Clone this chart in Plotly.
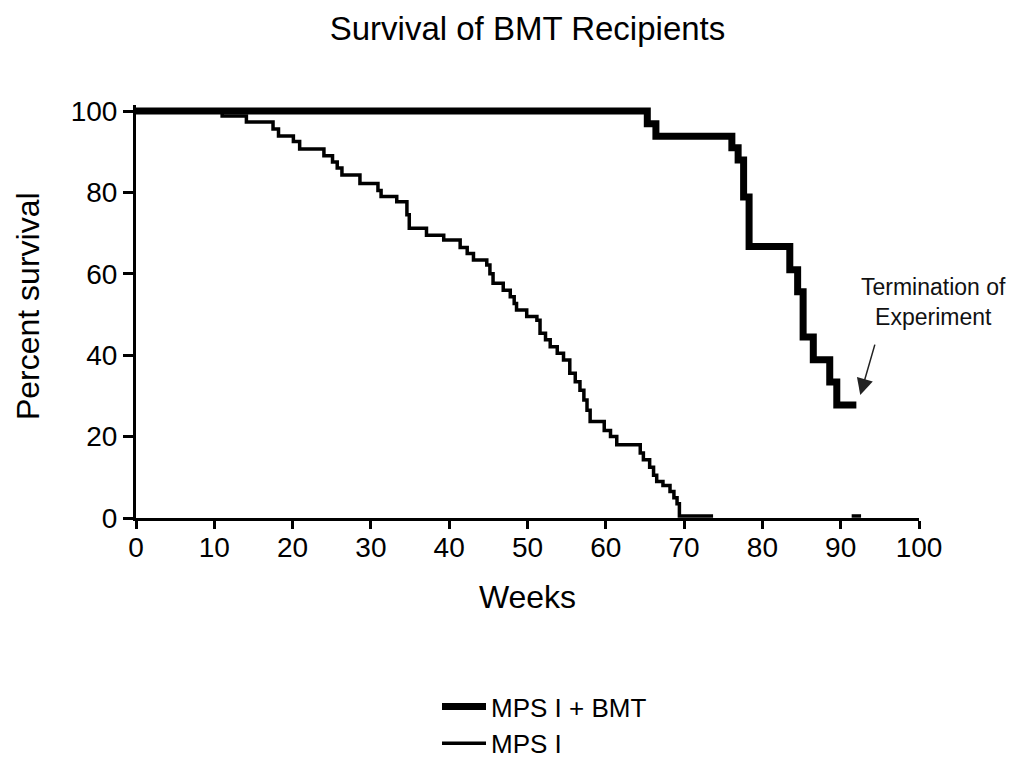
import plotly.graph_objects as go

# Kaplan-Meier step data: week of each step and percent surviving after it
bmt_weeks = [0, 65.3, 66.4, 76.1, 76.9, 77.6, 78.3, 83.5, 84.5, 85.2, 86.5, 88.6, 89.5, 92.0]
bmt_surv = [100, 96.9, 93.8, 91.0, 88.0, 78.9, 66.7, 61.0, 55.6, 44.5, 38.9, 33.4, 27.8, 27.8]

mps_weeks = [0, 11.0, 14.1, 17.5, 18.2, 20.1, 20.9, 24.0, 25.1, 25.7, 26.3, 28.6, 30.9, 31.3,
             33.3, 34.6, 34.9, 37.1, 39.3, 41.4, 42.3, 43.1, 44.8, 45.2, 45.6, 46.9, 47.8,
             48.3, 48.6, 49.9, 51.2, 51.6, 52.3, 52.9, 53.8, 54.6, 55.4, 56.1, 56.7, 57.2,
             57.6, 58.0, 59.8, 60.6, 61.4, 64.4, 64.8, 65.6, 66.1, 66.5, 67.3, 68.2, 68.7,
             69.1, 69.4, 73.7, None, 91.4, 92.6]
mps_surv = [100, 98.8, 97.3, 95.6, 93.9, 92.5, 90.7, 89.0, 87.5, 86.0, 84.3, 82.2, 80.5, 79.0,
            77.7, 74.5, 71.2, 69.5, 68.3, 66.5, 65.0, 63.4, 62.2, 60.0, 57.7, 56.0, 54.4,
            52.7, 51.1, 49.5, 48.6, 45.4, 43.8, 42.1, 40.5, 38.8, 35.6, 33.5, 31.4, 29.0,
            26.5, 23.7, 21.5, 20.0, 18.0, 16.0, 14.3, 12.5, 10.5, 9.0, 8.0, 6.5, 5.0,
            3.5, 0.5, 0.5, None, 0.5, 0.5]

x_ticks = [0, 10, 20, 30, 40, 50, 60, 70, 80, 90, 100]
y_ticks = [0, 20, 40, 60, 80, 100]

FONT = "Liberation Sans, Arial, Helvetica, sans-serif"

fig = go.Figure()
fig.add_trace(go.Scatter(
    x=bmt_weeks, y=bmt_surv, mode="lines", name="MPS I + BMT",
    line=dict(color="black", width=7, shape="hv"),
))
fig.add_trace(go.Scatter(
    x=mps_weeks, y=mps_surv, mode="lines", name="MPS I",
    line=dict(color="black", width=3.5, shape="hv"), connectgaps=False,
))

# note marking the end of follow-up
fig.add_annotation(
    x=92.5, y=30.2, xref="x", yref="y", text="", showarrow=True,
    ax=15, ay=-52, arrowhead=2, arrowsize=2.2, arrowwidth=1.5, arrowcolor="#222",
)
fig.add_annotation(
    x=1.019, y=0.523, xref="paper", yref="paper", showarrow=False,
    text="Termination of<br>Experiment", align="center",
    xanchor="center", yanchor="middle",
    font=dict(family=FONT, size=23, color="#111"),
)

# vertical axis label
fig.add_annotation(
    x=-0.138, y=0.513, xref="paper", yref="paper", showarrow=False,
    text="Percent survival", textangle=-90,
    xanchor="center", yanchor="middle",
    font=dict(family=FONT, size=32, color="black"),
)

fig.update_layout(
    width=1029, height=759,
    margin=dict(l=136, r=110, t=105, b=241, autoexpand=False),
    paper_bgcolor="white", plot_bgcolor="white",
    title=dict(text="Survival of BMT Recipients", x=0.5, xref="paper", y=0.962,
               yanchor="middle", font=dict(family=FONT, size=33, color="black")),
    font=dict(family=FONT, color="black"),
    showlegend=True,
    legend=dict(x=437 / 1029, y=1 - 683 / 759, xref="container", yref="container",
                xanchor="left", yanchor="top", itemwidth=44,
                font=dict(family=FONT, size=26, color="black"),
                bgcolor="rgba(0,0,0,0)", tracegroupgap=0),
    xaxis=dict(
        range=[0, 100], tickvals=x_ticks, showgrid=False, zeroline=False,
        showline=True, linecolor="black", linewidth=3,
        ticks="outside", ticklen=8, tickwidth=3, tickcolor="black",
        ticklabelstandoff=-6,
        tickfont=dict(family=FONT, size=28, color="black"),
        title=dict(text="Weeks", font=dict(family=FONT, size=32, color="black"), standoff=25),
    ),
    yaxis=dict(
        range=[0, 101.5], tickvals=y_ticks, showgrid=False, zeroline=False,
        showline=True, linecolor="black", linewidth=3,
        ticks="outside", ticklen=10, tickwidth=3, tickcolor="black",
        tickfont=dict(family=FONT, size=28, color="black"),
    ),
)

fig.write_html("out.html")
